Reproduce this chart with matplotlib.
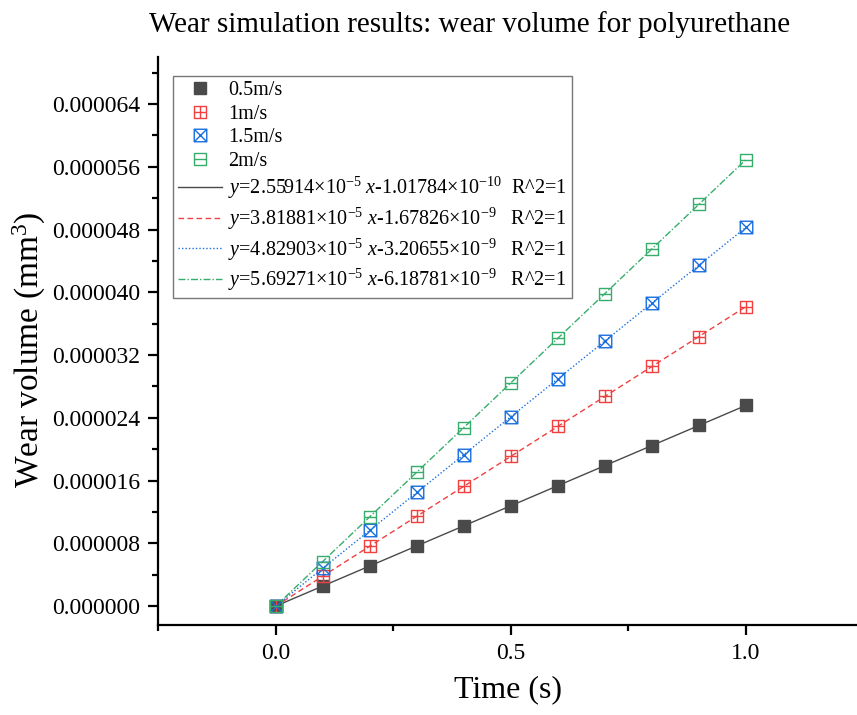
import numpy as np
import matplotlib
matplotlib.use("Agg")
import matplotlib.pyplot as plt
from matplotlib.path import Path
from matplotlib.ticker import MultipleLocator, FormatStrFormatter

plt.rcParams['font.family'] = ['Liberation Serif', 'DejaVu Serif']
plt.rcParams['mathtext.fontset'] = 'custom'
plt.rcParams['mathtext.rm'] = 'Liberation Serif'
plt.rcParams['mathtext.it'] = 'Liberation Serif:italic'
plt.rcParams['mathtext.bf'] = 'Liberation Serif:bold'

# sampled wear volume (mm^3) against time (s)
time_s = [0.0, 0.1, 0.2, 0.3, 0.4, 0.5, 0.6, 0.7, 0.8, 0.9, 1.0]
wear_05 = [0.0, 2.56e-6, 5.12e-6, 7.68e-6, 1.024e-5, 1.280e-5, 1.535e-5, 1.791e-5, 2.047e-5, 2.303e-5, 2.559e-5]
wear_10 = [0.0, 3.82e-6, 7.64e-6, 1.146e-5, 1.528e-5, 1.909e-5, 2.291e-5, 2.673e-5, 3.055e-5, 3.437e-5, 3.819e-5]
wear_15 = [0.0, 4.83e-6, 9.66e-6, 1.449e-5, 1.932e-5, 2.415e-5, 2.897e-5, 3.380e-5, 3.863e-5, 4.346e-5, 4.829e-5]
wear_20 = [0.0, 5.69e-6, 1.139e-5, 1.708e-5, 2.277e-5, 2.846e-5, 3.416e-5, 3.985e-5, 4.554e-5, 5.123e-5, 5.693e-5]
speed_labels = ["0.5m/s", "1m/s", "1.5m/s", "2m/s"]

# linear fit parameters (slope, intercept)
fit_slopes = [2.55914e-5, 3.81881e-5, 4.82903e-5, 5.69271e-5]
fit_intercepts = [-1.01784e-10, -1.67826e-9, -3.20655e-9, -6.18781e-9]
fit_labels = [
    r"$y$=2.55914×10$^{-5}$ $x$-1.01784×10$^{-10}$  R^2=1",
    r"$y$=3.81881×10$^{-5}$ $x$-1.67826×10$^{-9}$   R^2=1",
    r"$y$=4.82903×10$^{-5}$ $x$-3.20655×10$^{-9}$   R^2=1",
    r"$y$=5.69271×10$^{-5}$ $x$-6.18781×10$^{-9}$   R^2=1",
]

colors = ["#4a4a4a", "#F14040", "#1A6FDF", "#37AD6B"]
fit_styles = ["-", (0, (4, 2.5)), (0, (1, 1.5)), (0, (5, 1.5, 1, 1.5))]


def boxed(inner):
    # square outline plus inner strokes, as one marker path
    verts = [(-1, -1), (1, -1), (1, 1), (-1, 1), (-1, -1)]
    codes = [Path.MOVETO, Path.LINETO, Path.LINETO, Path.LINETO, Path.CLOSEPOLY]
    for a, b in inner:
        verts += [a, b]
        codes += [Path.MOVETO, Path.LINETO]
    return Path(verts, codes)


m_plus = boxed([((0, -1), (0, 1)), ((-1, 0), (1, 0))])
m_cross = boxed([((-1, -1), (1, 1)), ((-1, 1), (1, -1))])
m_hline = boxed([((-1, 0), (1, 0))])

fig = plt.figure(figsize=(8.57, 7.15), dpi=100)
ax = fig.add_axes([0.1844, 0.1259, 0.8156, 0.7944])

series = [wear_05, wear_10, wear_15, wear_20]
markers = ["s", m_plus, m_cross, m_hline]

xf = np.array([0.0, 1.0])
fit_handles = []
for k in range(4):
    h, = ax.plot(xf, fit_slopes[k] * xf + fit_intercepts[k], color=colors[k],
                 linestyle=fit_styles[k], linewidth=1.0, label=fit_labels[k], zorder=2)
    fit_handles.append(h)

handles = []
for k in range(4):
    if k == 0:
        h, = ax.plot(time_s, series[k], linestyle="none", marker="s", markersize=9,
                     markerfacecolor=colors[k], markeredgecolor=colors[k],
                     label=speed_labels[k], zorder=3)
    else:
        h, = ax.plot(time_s, series[k], linestyle="none", marker=markers[k], markersize=9,
                     markerfacecolor="none", markeredgecolor=colors[k], markeredgewidth=1.0,
                     label=speed_labels[k], zorder=3)
    handles.append(h)

ax.set_xlim(-0.25, 1.236)
ax.set_ylim(-2.4e-6, 7.0e-5)

ax.spines['top'].set_visible(False)
ax.spines['right'].set_visible(False)
for s in ['left', 'bottom']:
    ax.spines[s].set_linewidth(1.6)

ax.xaxis.set_major_locator(MultipleLocator(0.5))
ax.xaxis.set_minor_locator(MultipleLocator(0.25))
ax.yaxis.set_major_locator(MultipleLocator(8e-6))
ax.yaxis.set_minor_locator(MultipleLocator(4e-6))
ax.xaxis.set_major_formatter(FormatStrFormatter('%.1f'))
ax.yaxis.set_major_formatter(FormatStrFormatter('%.6f'))
ax.tick_params(which='major', direction='out', length=7, width=1.6, labelsize=17, pad=6)
ax.tick_params(which='minor', direction='out', length=4, width=1.6)

ax.set_xlabel("Time (s)", fontsize=23, labelpad=8)
ax.set_ylabel("Wear volume (mm$^3$)", fontsize=24)
ax.yaxis.set_label_coords(-0.158, 0.485)
ax.set_title("Wear simulation results: wear volume for polyurethane", fontsize=21,
             pad=18, x=0.445)

leg = ax.legend(handles=handles + fit_handles,
                loc='upper left', bbox_to_anchor=(0.0215, 0.9665), borderaxespad=0,
                fontsize=14.5, frameon=True, fancybox=False, handlelength=2.2,
                handletextpad=0.3, labelspacing=0.22, borderpad=0.25)
leg.get_frame().set_edgecolor("#555555")
leg.get_frame().set_linewidth(1.0)

fig.savefig("out.png", dpi=100)
